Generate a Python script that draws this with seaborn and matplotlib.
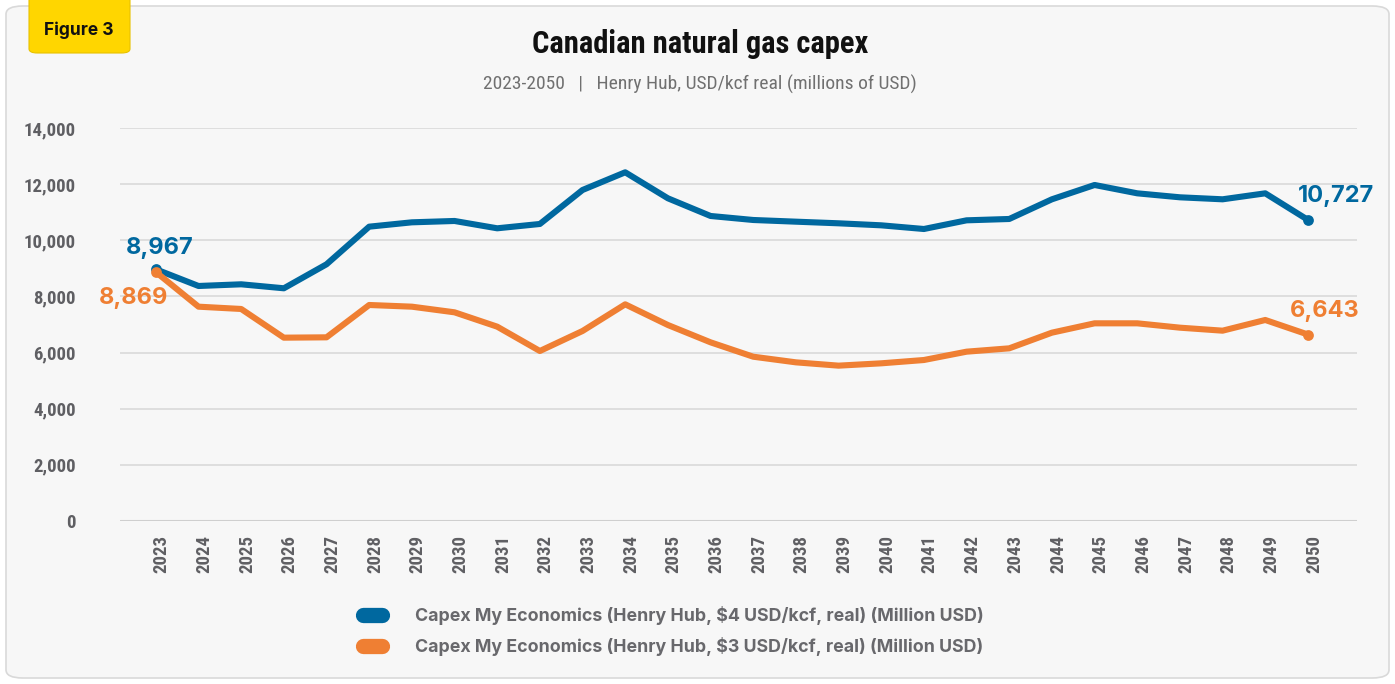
import matplotlib
matplotlib.use("Agg")
import matplotlib.pyplot as plt
import seaborn as sns
import pandas as pd
from matplotlib import font_manager
from matplotlib.patches import FancyBboxPatch
from matplotlib.lines import Line2D

years = list(range(2023, 2051))
capex_4 = [8967, 8372, 8432, 8290, 9145, 10485, 10640, 10688, 10427, 10581,
           11792, 12422, 11496, 10866, 10723, 10663, 10605, 10533, 10402,
           10711, 10759, 11460, 11970, 11673, 11531, 11460, 11673, 10727]
capex_3 = [8869, 7635, 7553, 6531, 6543, 7695, 7635, 7434, 6923, 6056,
           6769, 7719, 6982, 6365, 5853, 5652, 5534, 5617, 5735,
           6032, 6151, 6709, 7042, 7042, 6887, 6780, 7161, 6643]
series_names = ["Capex My Economics (Henry Hub, $4 USD/kcf, real) (Million USD)",
                "Capex My Economics (Henry Hub, $3 USD/kcf, real) (Million USD)"]
y_ticks = [0, 2000, 4000, 6000, 8000, 10000, 12000, 14000]
title = "Canadian natural gas capex"
subtitle = "2023-2050   |   Henry Hub, USD/kcf real (millions of USD)"

BLUE = "#00689F"
ORANGE = "#EF7F33"
GRAY = "#5f5f63"

available = set(font_manager.get_font_names())
def pick(*names):
    for n in names:
        if n in available:
            return n
    return "DejaVu Sans"

NARROW = pick("Roboto Condensed", "Liberation Sans Narrow", "Open Sans Condensed", "DejaVu Sans")
MAIN = pick("Inter", "Roboto", "Open Sans", "DejaVu Sans")

sns.set_theme(style="white")
plt.rcParams["font.family"] = [MAIN, "DejaVu Sans"]

df = pd.DataFrame({
    "idx": list(range(len(years))) * 2,
    "value": capex_4 + capex_3,
    "series": [series_names[0]] * len(years) + [series_names[1]] * len(years),
})

fig = plt.figure(figsize=(13.95, 6.84), dpi=100)
fig.patch.set_facecolor("white")

# panel background
panel = FancyBboxPatch((6 / 1395, 6 / 684), 1383 / 1395, 672 / 684,
                       boxstyle="round,pad=0,rounding_size=0.012",
                       transform=fig.transFigure, facecolor="#f7f7f7",
                       edgecolor="#d9d9d9", linewidth=1.2, zorder=-10)
fig.patches.append(panel)

# yellow badge
badge = FancyBboxPatch((29 / 1395, 631 / 684), 101 / 1395, 70 / 684,
                       boxstyle="round,pad=0,rounding_size=0.006",
                       transform=fig.transFigure, facecolor="#FFD600",
                       edgecolor="#E8C200", linewidth=0.8, zorder=-5)
fig.patches.append(badge)
fig.text(79 / 1395, 1 - 30 / 684, "Figure 3", ha="center", va="center",
         fontsize=12.5, fontweight="bold", color="#111111", family=[MAIN, "DejaVu Sans"])

fig.text(700 / 1395, 1 - 44 / 684, title, ha="center", va="center",
         fontsize=22, fontweight="bold", color="#111111", family=[NARROW, "DejaVu Sans"])
fig.text(700 / 1395, 1 - 84 / 684, subtitle, ha="center", va="center",
         fontsize=14, color="#707070", family=[NARROW, "DejaVu Sans"])

ax = fig.add_axes([120 / 1395, 163 / 684, 1237 / 1395, 393 / 684])
ax.set_facecolor("none")
ax.set_zorder(1)

sns.lineplot(data=df, x="idx", y="value", hue="series",
             palette=[BLUE, ORANGE], linewidth=4.4, legend=False, ax=ax,
             clip_on=False, zorder=3)

# endpoint dots
for vals, col in ((capex_4, BLUE), (capex_3, ORANGE)):
    ax.scatter([0, len(years) - 1], [vals[0], vals[-1]], s=60, color=col,
               zorder=4, clip_on=False, linewidths=0)

TICK_SHIFT = 0.14
ax.set_xlim(-0.84, 28.15)
ax.set_ylim(0, 14000)
ax.set_yticks(y_ticks)
ax.set_yticklabels([f"{v:,}" for v in y_ticks], family=[NARROW, "DejaVu Sans"],
                   fontsize=13.5, color=GRAY, fontweight="bold")
ax.set_xticks([i + TICK_SHIFT for i in range(len(years))])
ax.set_xticklabels([str(y) for y in years], rotation=90, family=[NARROW, "DejaVu Sans"],
                   fontsize=13.5, color=GRAY, fontweight="bold")
ax.tick_params(axis="y", length=0, pad=32)
ax.tick_params(axis="x", length=6, width=1.2, color="#c8c8c8", pad=4, direction="out")
for s in ax.spines.values():
    s.set_visible(False)
ax.grid(axis="y", color="#dcdcdc", linewidth=1.3)
ax.set_axisbelow(True)
ax.set_xlabel("")
ax.set_ylabel("")
ax.axhline(0, color="#cfcfcf", linewidth=2.2, zorder=1)

# value labels
lbl_kw = dict(fontsize=17, fontweight="bold", family=[MAIN, "DejaVu Sans"])
ax.annotate(f"{capex_4[0]:,}", (0, capex_4[0]), xytext=(3, 15), textcoords="offset points",
            ha="center", va="center", color=BLUE, **lbl_kw)
ax.annotate(f"{capex_3[0]:,}", (0, capex_3[0]), xytext=(-16, -19), textcoords="offset points",
            ha="center", va="center", color=ORANGE, **lbl_kw)
ax.annotate(f"{capex_4[-1]:,}", (len(years) - 1, capex_4[-1]), xytext=(20, 17),
            textcoords="offset points", ha="center", va="center", color=BLUE, **lbl_kw)
ax.annotate(f"{capex_3[-1]:,}", (len(years) - 1, capex_3[-1]), xytext=(12, 17),
            textcoords="offset points", ha="center", va="center", color=ORANGE, **lbl_kw)

handles = [Line2D([0], [0], color=BLUE, lw=11, solid_capstyle="round"),
           Line2D([0], [0], color=ORANGE, lw=11, solid_capstyle="round")]
leg = fig.legend(handles, series_names, loc="upper left",
                 bbox_to_anchor=(347 / 1395, 1 - 590 / 684), frameon=False,
                 handlelength=1.05, handletextpad=1.9, labelspacing=0.7,
                 prop={"family": [MAIN, "DejaVu Sans"], "size": 12.8, "weight": "bold"})
for t in leg.get_texts():
    t.set_color("#68686c")

fig.savefig("out.png", dpi=100, facecolor=fig.get_facecolor())
